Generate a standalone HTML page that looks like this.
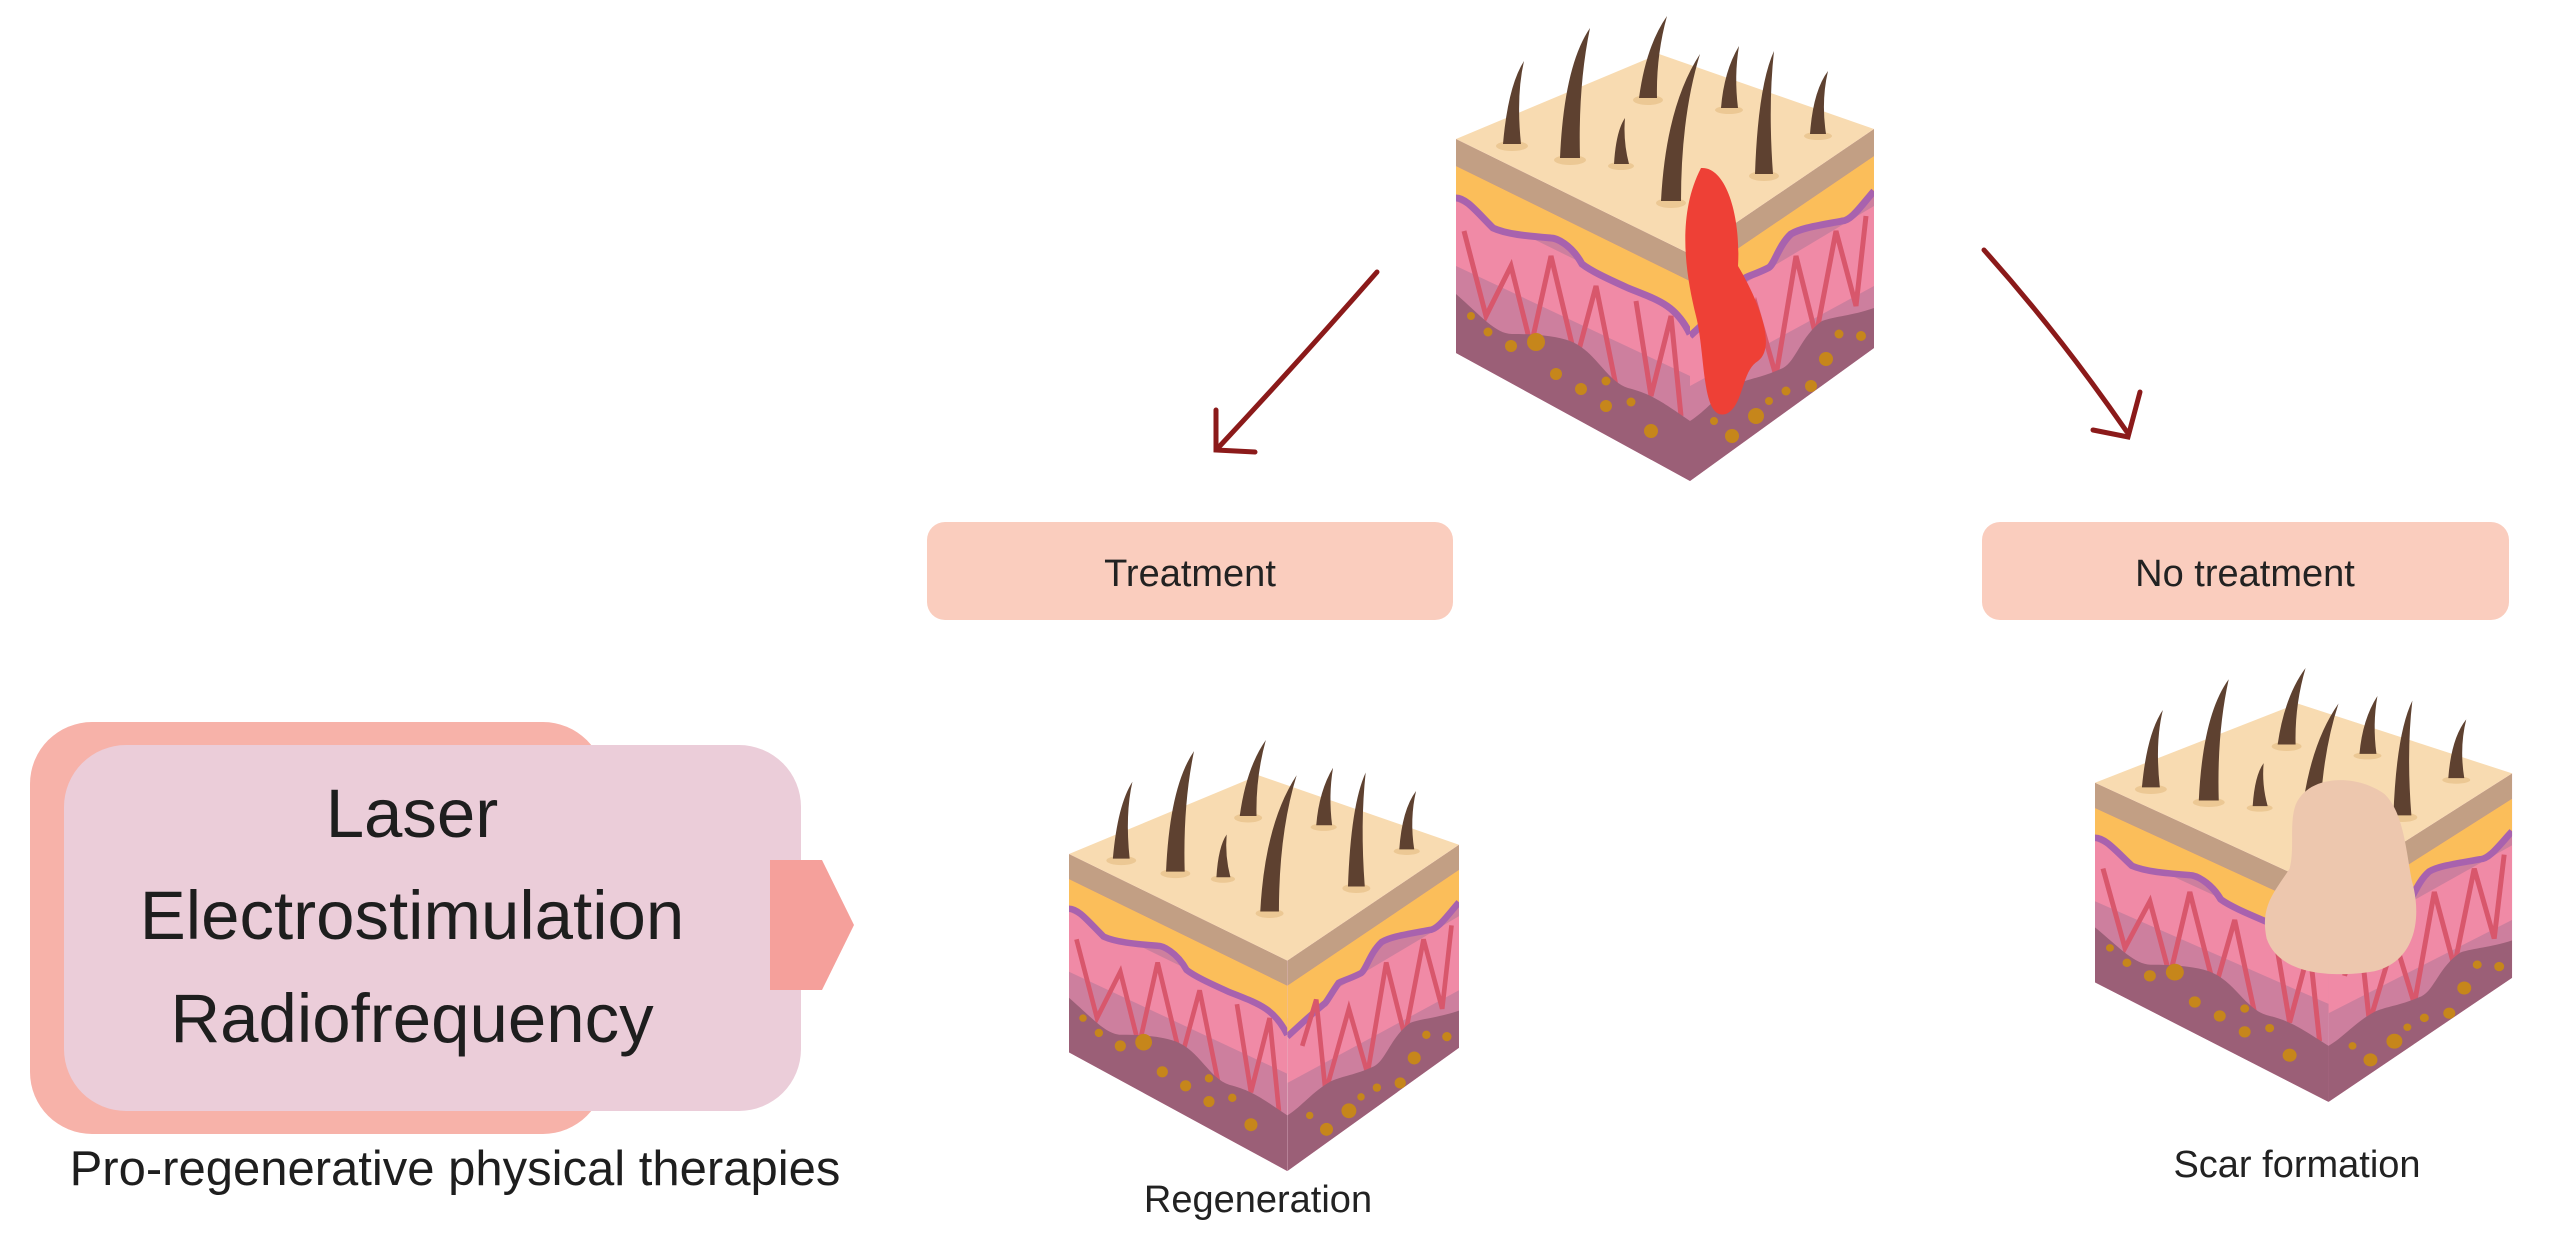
<!DOCTYPE html>
<html><head><meta charset="utf-8"><style>
body{margin:0;background:#fff;}
svg{display:block}
</style></head><body>
<svg width="2550" height="1244" viewBox="0 0 2550 1244" xmlns="http://www.w3.org/2000/svg" font-family="Liberation Sans, sans-serif">
<defs>
<clipPath id="lf"><polygon points="0,123 234,238 234,465 0,337"/></clipPath>
<clipPath id="rf"><polygon points="234,238 418,113 418,332 234,465"/></clipPath>
<g id="cube">
  <g clip-path="url(#lf)">
    <rect x="0" y="100" width="240" height="380" fill="#cd7f9e"/>
    <path d="M0,185 L234,300 L234,360 L0,250Z" fill="#f08aa6"/>
    <path d="M0,150 L234,265 L234,318 C220,290 205,285 172,272 C150,262 135,255 126,248 C115,228 100,222 95,222 C70,220 50,218 37,212 C20,195 10,182 0,182Z" fill="#fbbe5a"/>
    <path d="M0,182 C10,182 20,195 37,212 C50,218 70,220 95,222 C100,222 115,228 126,248 C135,255 150,262 172,272 C205,285 220,290 234,318" fill="none" stroke="#a862ae" stroke-width="7"/>
    <g stroke="#d8576c" stroke-width="5" fill="none">
      <path d="M8,215 L30,300 L55,250 L75,330 L95,240 L120,345 L140,270 L160,370"/>
      <path d="M180,285 L195,380 L215,300 L225,400"/>
    </g>
    <path d="M0,123 L234,238 L234,265 L0,150Z" fill="#c29f84"/>
    <path d="M0,278 C25,300 40,318 56,318 C80,318 100,320 114,325 C140,335 150,365 172,372 C195,378 205,385 234,405 L234,470 L0,340Z" fill="#9b5f77"/>
    <g fill="#c6861b">
      <circle cx="15" cy="300" r="4"/><circle cx="32" cy="316" r="4.5"/><circle cx="55" cy="330" r="6"/><circle cx="80" cy="326" r="9"/>
      <circle cx="100" cy="358" r="6"/><circle cx="125" cy="373" r="6"/><circle cx="150" cy="365" r="4.5"/><circle cx="150" cy="390" r="6"/>
      <circle cx="175" cy="386" r="4.5"/><circle cx="195" cy="415" r="7"/>
    </g>
  </g>
  <g clip-path="url(#rf)">
    <rect x="230" y="100" width="195" height="380" fill="#cd7f9e"/>
    <path d="M234,300 L418,190 L418,270 L234,370Z" fill="#f08aa6"/>
    <path d="M234,265 L418,140 L418,175 C405,190 395,205 386,205 C360,210 345,212 335,218 C322,230 318,250 312,252 C300,258 292,260 289,262 C280,275 275,285 273,285 C255,300 245,310 234,320Z" fill="#fbbe5a"/>
    <path d="M418,175 C405,190 395,205 386,205 C360,210 345,212 335,218 C322,230 318,250 312,252 C300,258 292,260 289,262 C280,275 275,285 273,285 C255,300 245,310 234,320" fill="none" stroke="#a862ae" stroke-width="7"/>
    <g stroke="#d8576c" stroke-width="5" fill="none">
      <path d="M250,330 L265,280 L275,380 L300,290 L320,360 L340,240 L360,320 L380,215 L400,290 L410,200"/>
    </g>
    <path d="M234,238 L418,113 L418,140 L234,265Z" fill="#c29f84"/>
    <path d="M418,292 C395,300 380,300 366,305 C345,320 340,345 327,352 C305,362 295,362 281,368 C260,380 250,395 234,405 L234,470 L418,340Z" fill="#9b5f77"/>
    <g fill="#c6861b">
      <circle cx="383" cy="318" r="4.5"/><circle cx="405" cy="320" r="5"/><circle cx="370" cy="343" r="7"/><circle cx="355" cy="370" r="6"/>
      <circle cx="330" cy="375" r="4.5"/><circle cx="313" cy="385" r="4"/><circle cx="300" cy="400" r="8"/><circle cx="276" cy="420" r="7"/><circle cx="258" cy="405" r="4"/>
    </g>
  </g>
  <polygon points="0,123 203,38 418,113 234,238" fill="#f8dbb1"/>
  <g fill="#ecc894">
    <ellipse cx="56" cy="130" rx="16" ry="5"/><ellipse cx="114" cy="144" rx="16" ry="5"/><ellipse cx="165" cy="150" rx="13" ry="4"/>
    <ellipse cx="192" cy="84" rx="15" ry="5"/><ellipse cx="215" cy="187" rx="15" ry="5"/><ellipse cx="273" cy="94" rx="14" ry="4"/>
    <ellipse cx="308" cy="160" rx="15" ry="5"/><ellipse cx="362" cy="120" rx="14" ry="4"/>
  </g>
  <g fill="#5e4130">
    <path d="M47,128 Q52,70 68,45 Q60,80 65,128Z"/>
    <path d="M104,142 Q108,50 134,12 Q122,70 124,142Z"/>
    <path d="M158,148 Q160,115 169,102 Q167,125 173,148Z"/>
    <path d="M183,82 Q190,30 211,0 Q200,40 201,82Z"/>
    <path d="M205,185 Q210,90 244,38 Q225,100 225,185Z"/>
    <path d="M265,92 Q268,55 283,30 Q278,60 282,92Z"/>
    <path d="M299,158 Q302,70 318,35 Q312,90 317,158Z"/>
    <path d="M354,118 Q357,75 372,55 Q365,85 370,118Z"/>
  </g>
</g>
</defs>

<g transform="translate(1456,16)">
  <use href="#cube"/>
  <path d="M245,152 C270,150 285,200 282,250 C300,280 322,330 302,345 C285,355 288,390 270,398 C245,405 250,340 240,300 C230,260 220,200 245,152Z" fill="#ee4036"/>
</g>

<g transform="translate(1069,740) scale(0.933,0.927)">
  <use href="#cube"/>
</g>

<g transform="translate(2095,668) scale(0.998,0.933)">
  <use href="#cube"/>
  <path d="M200,150 C210,115 260,112 290,135 C310,155 312,200 318,230 C328,270 320,315 280,325 C240,332 185,330 172,290 C165,255 180,240 195,215 C200,195 195,170 200,150Z" fill="#edc7ae"/>
</g>

<g stroke="#8b1a1a" stroke-width="5" fill="none" stroke-linecap="round">
  <path d="M1377,272 Q1300,360 1218,448"/>
  <path d="M1216,410 L1216,450 L1255,452"/>
  <path d="M1984,250 Q2060,335 2127,432"/>
  <path d="M2140,392 L2128,437 L2093,430"/>
</g>

<rect x="927" y="522" width="526" height="98" rx="18" fill="#facdbe"/>
<text x="1190" y="586" font-size="38" text-anchor="middle" fill="#222">Treatment</text>
<rect x="1982" y="522" width="527" height="98" rx="18" fill="#facdbe"/>
<text x="2245" y="586" font-size="38" text-anchor="middle" fill="#222">No treatment</text>

<rect x="30" y="722" width="575" height="412" rx="62" fill="#f7b2a9"/>
<rect x="64" y="745" width="737" height="366" rx="62" fill="#ebcdd9"/>
<polygon points="770,860 822,860 854,925 822,990 770,990" fill="#f5a09b"/>
<g font-size="69" text-anchor="middle" fill="#1e1e1e">
  <text x="412" y="837">Laser</text>
  <text x="412" y="939">Electrostimulation</text>
  <text x="412" y="1042">Radiofrequency</text>
</g>
<text x="455" y="1185" font-size="49" text-anchor="middle" fill="#1e1e1e">Pro-regenerative physical therapies</text>

<text x="1258" y="1212" font-size="38" text-anchor="middle" fill="#222">Regeneration</text>
<text x="2297" y="1177" font-size="38" text-anchor="middle" fill="#222">Scar formation</text>
</svg>
</body></html>
